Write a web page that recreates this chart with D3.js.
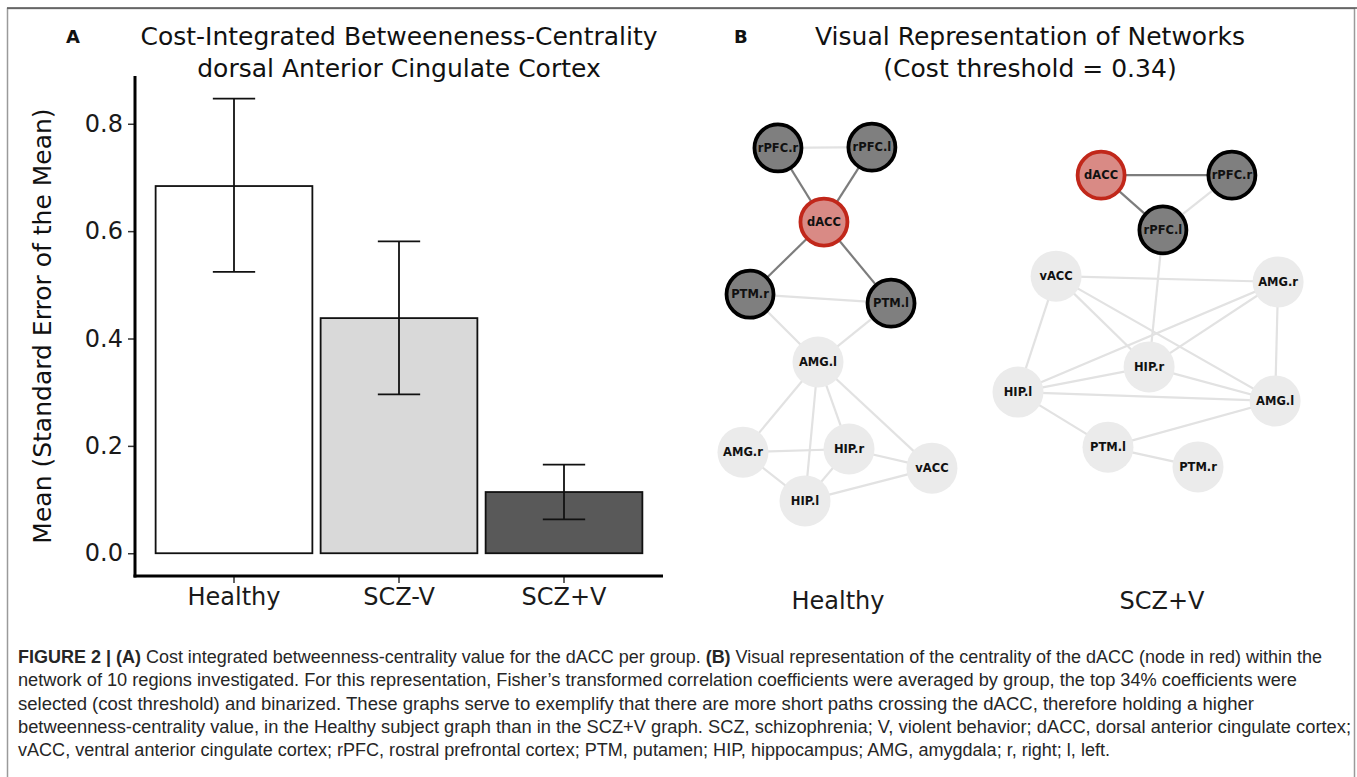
<!DOCTYPE html>
<html><head><meta charset="utf-8">
<script src="https://cdn.jsdelivr.net/npm/d3@7"></script>
<style>body{margin:0;background:#fff} svg{display:block}</style>
</head><body>
<svg id="c" width="1357" height="777"></svg>
<script>
// ---------- Panel A data ----------
const categories = ["Healthy", "SCZ-V", "SCZ+V"];
const means = [0.684, 0.438, 0.114];
const seLow = [0.524, 0.296, 0.063];
const seHigh = [0.847, 0.581, 0.165];
const barFills = ["#ffffff", "#d9d9d9", "#595959"];
const yTicks = [0, 0.2, 0.4, 0.6, 0.8];
const yTickLabels = ["0.0", "0.2", "0.4", "0.6", "0.8"];

// ---------- Panel B data (layout units 0-100) ----------
const healthyNodes = [
  {id: "rPFC.r", x: 21.8, y: 4.6}, {id: "rPFC.l", x: 64.5, y: 4.4},
  {id: "dACC", x: 42.7, y: 23.6}, {id: "PTM.r", x: 9.1, y: 42.1},
  {id: "PTM.l", x: 73.2, y: 44.4}, {id: "AMG.l", x: 40.0, y: 59.5},
  {id: "AMG.r", x: 5.9, y: 82.6}, {id: "HIP.r", x: 54.1, y: 81.8},
  {id: "vACC", x: 91.8, y: 86.7}, {id: "HIP.l", x: 34.1, y: 95.1}
];
const healthyEdges = [
  ["rPFC.r","rPFC.l"], ["PTM.r","PTM.l"], ["PTM.r","AMG.l"], ["PTM.l","AMG.l"],
  ["AMG.l","AMG.r"], ["AMG.l","HIP.l"], ["AMG.l","HIP.r"], ["AMG.l","vACC"],
  ["AMG.r","HIP.r"], ["AMG.r","HIP.l"], ["HIP.r","HIP.l"], ["HIP.r","vACC"], ["HIP.l","vACC"],
  ["rPFC.r","dACC"], ["rPFC.l","dACC"], ["dACC","PTM.r"], ["dACC","PTM.l"]
];
const sczNodes = [
  {id: "dACC", x: 33.7, y: 7.4}, {id: "rPFC.r", x: 77.3, y: 7.4},
  {id: "rPFC.l", x: 54.3, y: 23.5}, {id: "vACC", x: 18.7, y: 37.1},
  {id: "AMG.r", x: 92.7, y: 38.8}, {id: "HIP.r", x: 49.7, y: 63.8},
  {id: "HIP.l", x: 6.0, y: 71.2}, {id: "AMG.l", x: 91.7, y: 73.8},
  {id: "PTM.l", x: 36.0, y: 87.4}, {id: "PTM.r", x: 66.0, y: 93.2}
];
const sczEdges = [
  ["rPFC.r","rPFC.l"], ["rPFC.l","HIP.r"], ["vACC","AMG.r"], ["vACC","HIP.l"],
  ["vACC","HIP.r"], ["vACC","AMG.l"], ["HIP.l","AMG.r"], ["HIP.l","HIP.r"],
  ["HIP.l","AMG.l"], ["HIP.l","PTM.l"], ["HIP.r","AMG.r"], ["HIP.r","AMG.l"],
  ["AMG.r","AMG.l"], ["AMG.l","PTM.l"], ["PTM.l","PTM.r"],
  ["dACC","rPFC.r"], ["dACC","rPFC.l"]
];
const graphLabels = ["Healthy", "SCZ+V"];
const hubNode = "dACC";

const captionLines = [
  [["FIGURE 2 | (A)", true], [" Cost integrated betweenness-centrality value for the dACC per group. ", false], ["(B)", true], [" Visual representation of the centrality of the dACC (node in red) within the", false]],
  [["network of 10 regions investigated. For this representation, Fisher’s transformed correlation coefficients were averaged by group, the top 34% coefficients were", false]],
  [["selected (cost threshold) and binarized. These graphs serve to exemplify that there are more short paths crossing the dACC, therefore holding a higher", false]],
  [["betweenness-centrality value, in the Healthy subject graph than in the SCZ+V graph. SCZ, schizophrenia; V, violent behavior; dACC, dorsal anterior cingulate cortex;", false]],
  [["vACC, ventral anterior cingulate cortex; rPFC, rostral prefrontal cortex; PTM, putamen; HIP, hippocampus; AMG, amygdala; r, right; l, left.", false]]
];
const captionWidths = [1304, 1279, 1236, 1333, 1092];

// ---------- drawing ----------
const svg = d3.select("#c");
const FONT = "'DejaVu Sans', Verdana, sans-serif";

// frame
svg.append("rect").attr("x", 7.5).attr("y", 8.5).attr("width", 1347).attr("height", 800)
  .attr("fill", "none").attr("stroke", "#9a9a9a").attr("stroke-width", 1.5);
svg.append("line").attr("x1", 7).attr("x2", 1357).attr("y1", 8).attr("y2", 8)
  .attr("stroke", "#555").attr("stroke-width", 1.5);

// Panel A
const plotL = 135, plotR = 663, plotT = 76, plotB = 576;
const x = d3.scaleBand().domain(categories).range([plotL, plotR]).paddingInner(0.05).paddingOuter(0.125);
const y = d3.scaleLinear().domain([-0.0424, 0.889]).range([plotB, plotT]);

const gA = svg.append("g");
gA.selectAll("rect.bar").data(categories).join("rect").attr("class", "bar")
  .attr("x", d => x(d)).attr("width", x.bandwidth())
  .attr("y", (d, i) => y(means[i])).attr("height", (d, i) => y(0) - y(means[i]))
  .attr("fill", (d, i) => barFills[i]).attr("stroke", "#111").attr("stroke-width", 1.8);

const capHalf = x.bandwidth() * 0.135;
const eb = gA.selectAll("g.eb").data(categories).join("g").attr("class", "eb")
  .attr("stroke", "#111").attr("stroke-width", 1.8);
eb.append("line").attr("x1", d => x(d) + x.bandwidth()/2).attr("x2", d => x(d) + x.bandwidth()/2)
  .attr("y1", (d, i) => y(seLow[i])).attr("y2", (d, i) => y(seHigh[i]));
eb.append("line").attr("x1", d => x(d) + x.bandwidth()/2 - capHalf).attr("x2", d => x(d) + x.bandwidth()/2 + capHalf)
  .attr("y1", (d, i) => y(seHigh[i])).attr("y2", (d, i) => y(seHigh[i]));
eb.append("line").attr("x1", d => x(d) + x.bandwidth()/2 - capHalf).attr("x2", d => x(d) + x.bandwidth()/2 + capHalf)
  .attr("y1", (d, i) => y(seLow[i])).attr("y2", (d, i) => y(seLow[i]));

// axes
const yAxis = d3.axisLeft(y).tickValues(yTicks).tickFormat((d, i) => yTickLabels[i]).tickSize(7).tickPadding(5);
const gy = svg.append("g").attr("transform", `translate(${plotL},0)`).call(yAxis);
gy.select(".domain").remove();
gy.selectAll(".tick line").attr("stroke", "#333").attr("stroke-width", 1.5);
gy.selectAll(".tick text").attr("font-family", FONT).attr("font-size", 24).attr("fill", "#1a1a1a");

const xAxis = d3.axisBottom(x).tickSize(7).tickPadding(5);
const gx = svg.append("g").attr("transform", `translate(0,${plotB})`).call(xAxis);
gx.select(".domain").remove();
gx.selectAll(".tick line").attr("stroke", "#333").attr("stroke-width", 1.5);
gx.selectAll(".tick text").attr("font-family", FONT).attr("font-size", 24).attr("fill", "#1a1a1a");

svg.append("line").attr("x1", plotL).attr("x2", plotL).attr("y1", plotT).attr("y2", plotB + 1.5)
  .attr("stroke", "#000").attr("stroke-width", 3);
svg.append("line").attr("x1", plotL - 1.5).attr("x2", plotR).attr("y1", plotB).attr("y2", plotB)
  .attr("stroke", "#000").attr("stroke-width", 3);

svg.append("text").attr("transform", `translate(42,${(plotT + plotB) / 2}) rotate(-90)`)
  .attr("text-anchor", "middle").attr("dominant-baseline", "central")
  .attr("font-family", FONT).attr("font-size", 25).attr("fill", "#111")
  .text("Mean (Standard Error of the Mean)");

// titles
function title(cx, lines, letter, lx) {
  lines.forEach((t, i) => svg.append("text").attr("x", cx).attr("y", 45 + i * 32)
    .attr("text-anchor", "middle").attr("font-family", FONT).attr("font-size", 25).attr("fill", "#111").text(t));
  svg.append("text").attr("x", lx).attr("y", 43).attr("font-family", FONT).attr("font-weight", "bold")
    .attr("font-size", 18).attr("fill", "#111").text(letter);
}
title((plotL + plotR) / 2, ["Cost-Integrated Betweeneness-Centrality", "dorsal Anterior Cingulate Cortex"], "A", 66);
title(1030, ["Visual Representation of Networks", "(Cost threshold = 0.34)"], "B", 734);

// Panel B graphs
function drawGraph(nodes, edges, xr, yr, label, labelX) {
  const sx = d3.scaleLinear().domain([0, 100]).range(xr);
  const sy = d3.scaleLinear().domain([0, 100]).range(yr);
  const byId = new Map(nodes.map(n => [n.id, n]));
  const neighbors = new Set(edges.filter(e => e.includes(hubNode)).flat().filter(n => n !== hubNode));
  const g = svg.append("g");
  g.selectAll("line").data(edges).join("line")
    .attr("x1", e => sx(byId.get(e[0]).x)).attr("y1", e => sy(byId.get(e[0]).y))
    .attr("x2", e => sx(byId.get(e[1]).x)).attr("y2", e => sy(byId.get(e[1]).y))
    .attr("stroke", e => e.includes(hubNode) ? "#7d7d7d" : "#e2e2e2").attr("stroke-width", 2.2)
    .sort((a, b) => (a.includes(hubNode) ? 1 : 0) - (b.includes(hubNode) ? 1 : 0));
  const ng = g.selectAll("g.node").data(nodes).join("g").attr("class", "node")
    .attr("transform", n => `translate(${sx(n.x)},${sy(n.y)})`);
  ng.append("circle")
    .attr("r", n => n.id === hubNode || neighbors.has(n.id) ? 23.5 : 25.5)
    .attr("fill", n => n.id === hubNode ? "#d98a85" : neighbors.has(n.id) ? "#7f7f7f" : "#ebebeb")
    .attr("stroke", n => n.id === hubNode ? "#c1271a" : neighbors.has(n.id) ? "#000" : "none")
    .attr("stroke-width", 3.8);
  ng.append("text").attr("text-anchor", "middle").attr("dominant-baseline", "central")
    .attr("font-family", FONT).attr("font-weight", "bold").attr("font-size", 11.5).attr("fill", "#111")
    .text(n => n.id);
  svg.append("text").attr("x", labelX).attr("y", 609).attr("text-anchor", "middle")
    .attr("font-family", FONT).attr("font-size", 24).attr("fill", "#1a1a1a").text(label);
}
drawGraph(healthyNodes, healthyEdges, [730, 950], [130, 520], graphLabels[0], 838);
drawGraph(sczNodes, sczEdges, [1000, 1300], [150, 490], graphLabels[1], 1162);

// caption
const cap = svg.append("g").attr("font-family", "'Liberation Sans Narrow', 'Liberation Sans', Arial, sans-serif")
  .attr("font-size", 17.5).attr("fill", "#262626");
captionLines.forEach((parts, i) => {
  const t = cap.append("text").attr("x", 18).attr("y", 663 + i * 23.3)
    .attr("textLength", captionWidths[i]).attr("lengthAdjust", "spacingAndGlyphs");
  parts.forEach(p => t.append("tspan").attr("font-weight", p[1] ? "bold" : "normal").text(p[0]));
});
</script>
</body></html>
